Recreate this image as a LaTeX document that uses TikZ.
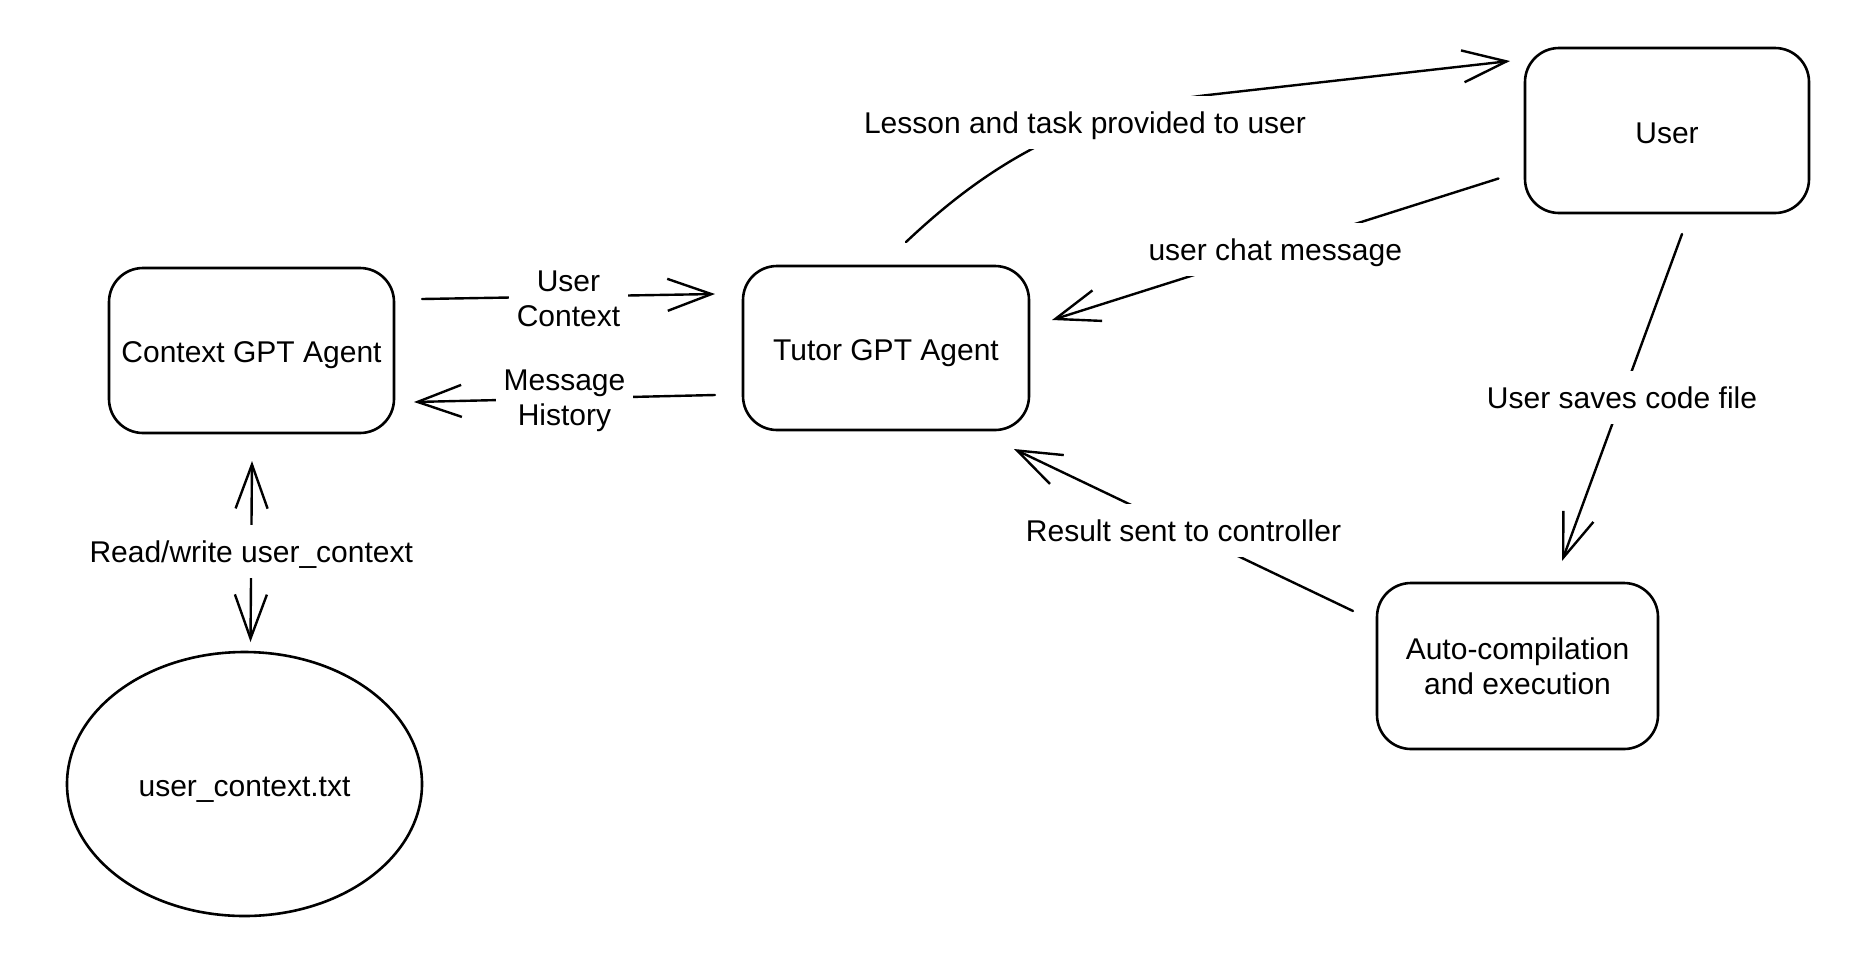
\documentclass[tikz,border=0pt]{standalone}
\usepackage{fontspec}
\setmainfont{Liberation Sans}
\usetikzlibrary{arrows.meta,shapes.geometric}
\begin{document}
\begin{tikzpicture}[x=0.5pt,y=-0.5pt,
  every node/.style={font=\fontsize{15}{17.5}\selectfont},
  box/.style={draw, line width=1.3pt, rounded corners=17pt, inner sep=0pt, align=center},
  onebox/.style={box, text height=13.5pt, text depth=1.5pt},
  barb/.tip={Straight Barb[length=22pt,width=16pt]},
  conn/.style={line width=1.2pt, line cap=round, line join=round, -barb},
  conntwo/.style={line width=1.2pt, line cap=round, line join=round, barb-barb},
  lbl/.style={fill=white, inner xsep=4pt, inner ysep=6pt, text height=12.75pt, text depth=1.75pt},
  lbltwo/.style={fill=white, inner xsep=4pt, inner ysep=3pt, align=center, yshift=-1.2pt}]
\path[fill=white] (0,0) rectangle (1853,960);
\useasboundingbox (0,0) rectangle (1853,960);

% nodes
\node[onebox, minimum width=142.5pt, minimum height=82.5pt] (ctx) at (251.5,350.5) {Context GPT Agent};
\node[onebox, minimum width=143pt, minimum height=82pt] (tutor) at (886,348) {Tutor GPT Agent};
\node[box, text height=14.4pt, text depth=1.5pt, minimum width=142pt, minimum height=82.5pt] (user) at (1667,130.5) {User};
\node[box, minimum width=140.5pt, minimum height=83pt] (auto) at (1517.5,666) {Auto-compilation\\and execution};
\node[draw, ellipse, line width=1.3pt, inner sep=0pt, text height=13.7pt, text depth=1.5pt, minimum width=177.5pt, minimum height=132pt] (file) at (244.5,784) {user\_context.txt};

% connector end points
\coordinate (uc1) at (422,299);   \coordinate (uc2) at (715,294);
\coordinate (mh1) at (715,395);   \coordinate (mh2) at (414,402);
\coordinate (rw1) at (252,461);   \coordinate (rw2) at (250.5,642);
\coordinate (ls1) at (906,242);   \coordinate (ls2) at (1208,95);   \coordinate (ls3) at (1510,61);
\coordinate (cm1) at (1498.5,178.5); \coordinate (cm2) at (1052,320);
\coordinate (sv1) at (1682,234);  \coordinate (sv2) at (1562,561);
\coordinate (rs1) at (1353,611);  \coordinate (rs2) at (1014,449);

% connectors
\draw[conn] (uc1) -- node[lbltwo] (ucl) {User\\Context} (uc2);
\draw[conn] (mh1) -- node[lbltwo] (mhl) {Message\\History} (mh2);
\draw[conntwo] (rw1) -- node[lbl] (rwl) {Read/write user\_context} (rw2);
\draw[conn] (ls1) .. controls (966,185.6) and (1058,112) .. (ls2) -- (ls3);
\node[lbl] (lsl) at (1085,122) {Lesson and task provided to user};
\draw[conn] (cm1) -- node[lbl] (cml) {user chat message} (cm2);
\draw[conn] (sv1) -- node[lbl] (svl) {User saves code file} (sv2);
\draw[conn] (rs1) -- node[lbl] (rsl) {Result sent to controller} (rs2);
\end{tikzpicture}
\end{document}
